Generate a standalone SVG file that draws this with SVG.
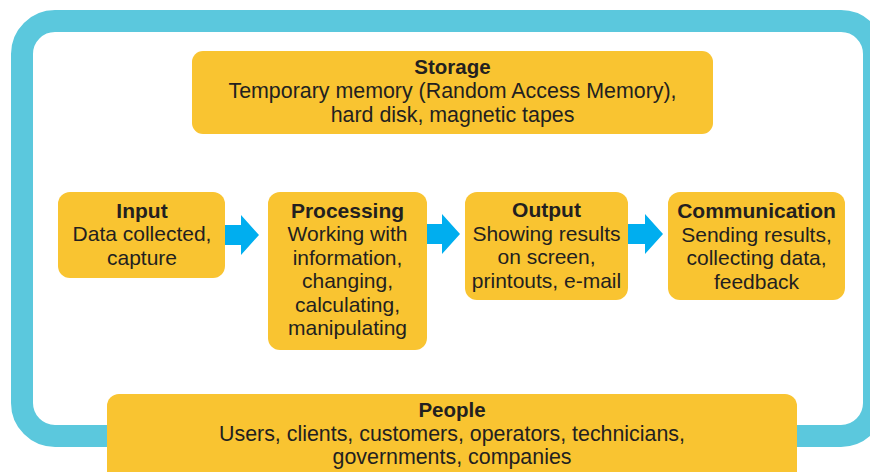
<svg xmlns="http://www.w3.org/2000/svg" xmlns:xlink="http://www.w3.org/1999/xlink" width="870" height="472" viewBox="0 0 870 472">
  <style>
    .box { fill: #F9C431; }
    .t { font-family: "Liberation Sans", Arial, sans-serif; font-size: 21px; fill: #231F20; text-anchor: middle; }
    .b { font-weight: bold; }
    .wide { font-size: 21.4px; }
    .arrow { fill: #00AEEF; }
  </style>
  <defs>
    <!-- block arrow: short shaft, triangular head, tip at (37,0) -->
    <polygon id="blockArrow" points="0,-10 19,-10 19,-20 37,0 19,20 19,10 0,10"/>
  </defs>

  <rect width="870" height="472" fill="#FFFFFF"/>

  <!-- surrounding frame -->
  <rect x="22" y="21" width="852" height="415" rx="33" ry="33" fill="none" stroke="#5BC8DD" stroke-width="22"/>

  <!-- connectors -->
  <g id="connectors" class="arrow">
    <use xlink:href="#blockArrow" x="222" y="235"/>
    <use xlink:href="#blockArrow" x="423" y="234"/>
    <use xlink:href="#blockArrow" x="626" y="234"/>
  </g>

  <g id="storage">
    <rect class="box" x="192" y="51" width="521" height="83" rx="11"/>
    <text class="t b" x="452.5" y="74" style="font-size:20.5px">Storage</text>
    <text class="t wide" x="452.5" y="98">Temporary memory (Random Access Memory),</text>
    <text class="t wide" x="452.5" y="122">hard disk, magnetic tapes</text>
  </g>

  <g id="input">
    <rect class="box" x="58" y="192" width="167" height="86" rx="12"/>
    <text class="t b" x="142" y="218">Input</text>
    <text class="t" x="142" y="241">Data collected,</text>
    <text class="t" x="142" y="265">capture</text>
  </g>

  <g id="processing">
    <rect class="box" x="268" y="192" width="159" height="158" rx="12"/>
    <text class="t b" x="347.5" y="218">Processing</text>
    <text class="t" x="347.5" y="241">Working with</text>
    <text class="t" x="347.5" y="264.5">information,</text>
    <text class="t" x="347.5" y="288">changing,</text>
    <text class="t" x="347.5" y="311.5">calculating,</text>
    <text class="t" x="347.5" y="335">manipulating</text>
  </g>

  <g id="output">
    <rect class="box" x="465" y="192" width="163" height="108" rx="12"/>
    <text class="t b" x="546.5" y="217">Output</text>
    <text class="t" x="546.5" y="240.5">Showing results</text>
    <text class="t" x="546.5" y="264">on screen,</text>
    <text class="t" x="546.5" y="287.5">printouts, e-mail</text>
  </g>

  <g id="communication">
    <rect class="box" x="668" y="192" width="177" height="108" rx="12"/>
    <text class="t b" x="756.5" y="218">Communication</text>
    <text class="t" x="756.5" y="241.5">Sending results,</text>
    <text class="t" x="756.5" y="265">collecting data,</text>
    <text class="t" x="756.5" y="288.5">feedback</text>
  </g>

  <g id="people">
    <rect class="box" x="107" y="394" width="690" height="100" rx="12"/>
    <text class="t b" x="452" y="417" style="font-size:20.5px">People</text>
    <text class="t wide" x="452" y="441">Users, clients, customers, operators, technicians,</text>
    <text class="t wide" x="452" y="464">governments, companies</text>
  </g>
</svg>
